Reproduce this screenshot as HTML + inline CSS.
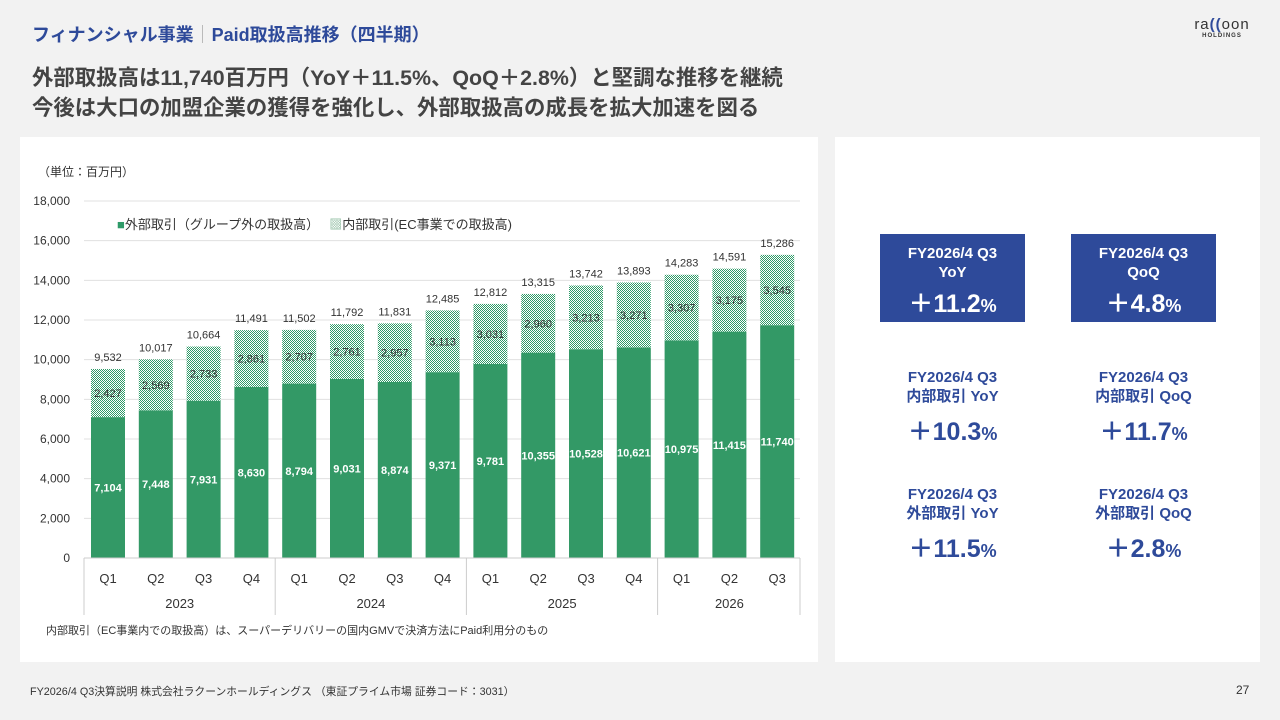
<!DOCTYPE html>
<html><head><meta charset="utf-8"><style>
body{margin:0;width:1280px;height:720px;background:#f2f2f2;font-family:"Liberation Sans","Noto Sans CJK JP",sans-serif;position:relative;overflow:hidden}
.a{position:absolute}
.box{position:absolute;width:145px;text-align:center;color:#2e4a9a;font-weight:bold}
.box .t{font-size:15px;line-height:19px}
.box .v{font-size:25px;margin-top:6px}
.box .v small{font-size:18px}
.blue{background:#2e4a9a;color:#fff}
</style></head><body>
<div class="a" style="left:32px;top:21px;font-size:18px;font-weight:bold;color:#2e4a9a">フィナンシャル事業<span style="color:#aaa;font-weight:normal">｜</span>Paid取扱高推移（四半期）</div>
<div class="a" style="left:1192px;top:16px;width:60px;text-align:center;color:#333"><div style="font-size:15px;letter-spacing:1px">ra<span style="color:#2e4a9a;font-weight:bold">((</span>oon</div><div style="font-size:6px;font-weight:bold;letter-spacing:1px">HOLDINGS</div></div>
<div class="a" style="left:32px;top:63px;font-size:21.4px;font-weight:bold;color:#444;line-height:30px">外部取扱高は11,740百万円（YoY＋11.5%、QoQ＋2.8%）と堅調な推移を継続<br>今後は大口の加盟企業の獲得を強化し、外部取扱高の成長を拡大加速を図る</div>
<div class="a" style="left:20px;top:137px;width:798px;height:525px;background:#fff"></div>
<div class="a" style="left:835px;top:137px;width:425px;height:525px;background:#fff"></div>
<svg class="a" style="left:0;top:0" width="830" height="660" id="chart">
<defs><pattern id="chk" width="2" height="2" patternUnits="userSpaceOnUse"><rect width="2" height="2" fill="#fff"/><rect width="1" height="1" fill="#2e9a68"/><rect x="1" y="1" width="1" height="1" fill="#2e9a68"/></pattern></defs>
</svg>
<div class="a" style="left:38px;top:163px;font-size:12px;color:#333">（単位：百万円）</div>
<div class="a" style="left:117px;top:214px;font-size:13px;color:#333"><span style="color:#2e9a68">■</span>外部取引（グループ外の取扱高）　 <span style="color:#9bc4ab">▩</span>内部取引(EC事業での取扱高)</div>
<div class="a" style="left:46px;top:622px;font-size:11px;color:#333">内部取引（EC事業内での取扱高）は、スーパーデリバリーの国内GMVで決済方法にPaid利用分のもの</div>
<div class="a" style="left:30px;top:683px;font-size:10.8px;color:#333">FY2026/4 Q3決算説明 株式会社ラクーンホールディングス （東証プライム市場 証券コード：3031）</div>
<div class="a" style="left:1236px;top:683px;font-size:12px;color:#333">27</div>
<div class="box blue" style="left:880px;top:234px;height:88px;padding-top:10px;box-sizing:border-box"><div class="t">FY2026/4 Q3<br>YoY</div><div class="v" style="margin-top:2px">＋11.2<small>%</small></div></div>
<div class="box blue" style="left:1071px;top:234px;height:88px;padding-top:10px;box-sizing:border-box"><div class="t">FY2026/4 Q3<br>QoQ</div><div class="v" style="margin-top:2px">＋4.8<small>%</small></div></div>
<div class="box" style="left:880px;top:368px"><div class="t">FY2026/4 Q3<br>内部取引 YoY</div><div class="v">＋10.3<small>%</small></div></div>
<div class="box" style="left:1071px;top:368px"><div class="t">FY2026/4 Q3<br>内部取引 QoQ</div><div class="v">＋11.7<small>%</small></div></div>
<div class="box" style="left:880px;top:485px"><div class="t">FY2026/4 Q3<br>外部取引 YoY</div><div class="v">＋11.5<small>%</small></div></div>
<div class="box" style="left:1071px;top:485px"><div class="t">FY2026/4 Q3<br>外部取引 QoQ</div><div class="v">＋2.8<small>%</small></div></div>
<script>
const quarters=["Q1","Q2","Q3","Q4","Q1","Q2","Q3","Q4","Q1","Q2","Q3","Q4","Q1","Q2","Q3"];
const years=["2023","2024","2025","2026"];
const external=[7104,7448,7931,8630,8794,9031,8874,9371,9781,10355,10528,10621,10975,11415,11740];
const internal=[2427,2569,2733,2861,2707,2761,2957,3113,3031,2960,3213,3271,3307,3175,3545];
const totals=[9532,10017,10664,11491,11502,11792,11831,12485,12812,13315,13742,13893,14283,14591,15286];
const yTicks=[0,2000,4000,6000,8000,10000,12000,14000,16000,18000];
const svg=document.getElementById('chart');const NS='http://www.w3.org/2000/svg';
const y=v=>558-v*357/18000;
const x=i=>108+i*47.8;
function mk(t,a,txt){const e=document.createElementNS(NS,t);for(const k in a)e.setAttribute(k,a[k]);if(txt!=null)e.textContent=txt;svg.appendChild(e);return e;}
yTicks.forEach(v=>{
 const g=mk('line',{x1:84,x2:800,y1:y(v),y2:y(v),stroke:'#e0e0e0'});
 
 
 const t=mk('text',{x:70,y:y(v)+4,'text-anchor':'end','font-size':12,fill:'#333'},v.toLocaleString('en-US'));
 
 
});
external.forEach((v,i)=>{
 const b=mk('rect',{x:x(i)-17,y:y(v),width:34,height:y(0)-y(v),fill:'#339966'});
 
 
 const s=mk('rect',{x:x(i)-17,y:y(v+internal[i]),width:34,height:y(v)-y(v+internal[i]),fill:'url(#chk)'});
 
 
 const l1=mk('text',{x:x(i),y:(y(v)+y(0))/2+4,'text-anchor':'middle','font-size':11,'font-weight':'bold',fill:'#fff'},v.toLocaleString('en-US'));
 
 
 const l2=mk('text',{x:x(i),y:(y(v)+y(v+internal[i]))/2+4,'text-anchor':'middle','font-size':11,fill:'#333'},internal[i].toLocaleString('en-US'));
 
 
 const l3=mk('text',{x:x(i),y:y(totals[i])-8,'text-anchor':'middle','font-size':11,fill:'#333'},totals[i].toLocaleString('en-US'));
 
 
 const q=mk('text',{x:x(i),y:583,'text-anchor':'middle','font-size':13,fill:'#333'},quarters[i]);
 
 
});
const ax=mk('line',{x1:84,x2:800,y1:558,y2:558,stroke:'#ccc'});


years.forEach((yr,k)=>{
 const start=k*4, n=Math.min(4,quarters.length-start);
 const left=x(start)-24, right=x(start+n-1)+24;
 const sep=mk('line',{x1:left,x2:left,y1:558,y2:615,stroke:'#ccc'});
 
 
 const t=mk('text',{x:(left+right)/2,y:608,'text-anchor':'middle','font-size':13,fill:'#333'},yr);
 
 
});
const endSep=mk('line',{x1:800,x2:800,y1:558,y2:615,stroke:'#ccc'});


</script>
</body></html>
